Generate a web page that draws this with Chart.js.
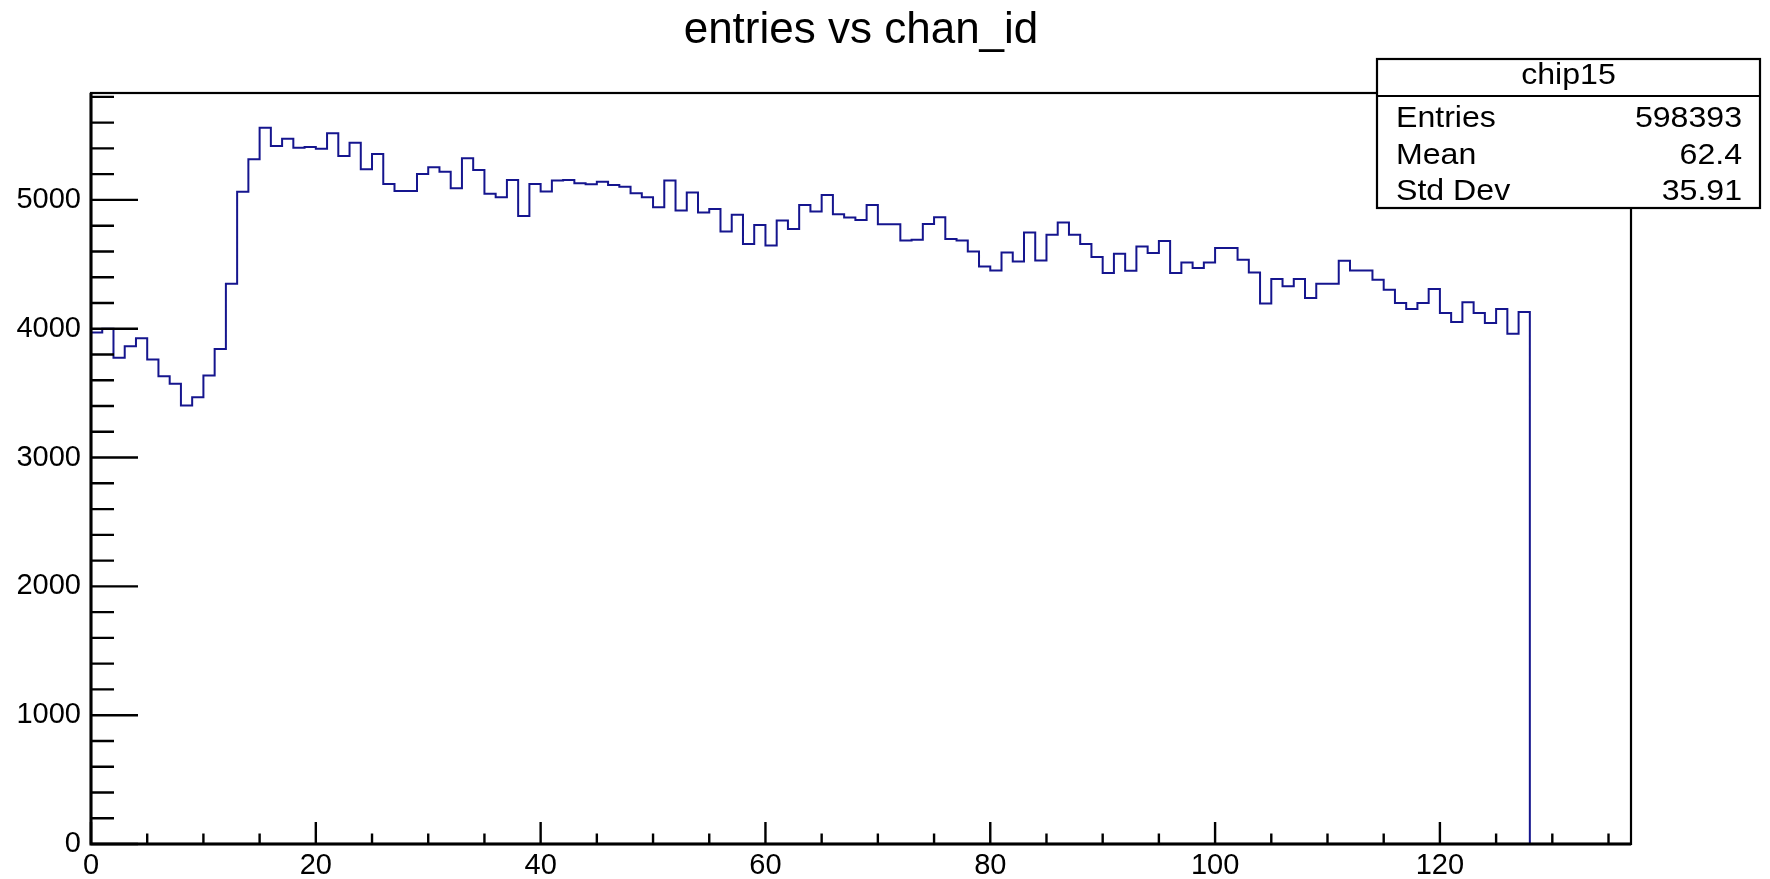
<!DOCTYPE html>
<html>
<head>
<meta charset="utf-8">
<title>entries vs chan_id</title>
<script src="https://cdn.jsdelivr.net/npm/chart.js@4.4.1/dist/chart.umd.min.js"></script>
<style>
  html, body { margin: 0; padding: 0; background: #fff; }
</style>
</head>
<body>
<canvas id="histChart" width="1770" height="879"></canvas>
<script>
// entries per channel for chip15, one value per bin (chan_id 0..127)
const entries = [
  3970, 4000, 3774, 3864, 3926, 3761, 3632, 3572, 3404, 3469,
  3637, 3843, 4349, 5064, 5315, 5560, 5418, 5475, 5405, 5410,
  5397, 5517, 5341, 5444, 5238, 5356, 5124, 5070, 5070, 5201,
  5253, 5219, 5090, 5323, 5232, 5047, 5021, 5155, 4876, 5124,
  5065, 5150, 5155, 5130, 5122, 5142, 5116, 5103, 5052, 5021,
  4944, 5150, 4917, 5057, 4902, 4929, 4755, 4884, 4657, 4806,
  4646, 4840, 4775, 4961, 4910, 5039, 4889, 4863, 4845, 4961,
  4812, 4812, 4685, 4690, 4814, 4866, 4696, 4685, 4600, 4483,
  4453, 4592, 4522, 4747, 4530, 4729, 4824, 4729, 4657, 4556,
  4432, 4582, 4450, 4638, 4587, 4682, 4432, 4515, 4471, 4515,
  4626, 4626, 4535, 4437, 4195, 4386, 4329, 4386, 4238, 4349,
  4349, 4528, 4453, 4453, 4380, 4303, 4200, 4153, 4200, 4308,
  4122, 4053, 4205, 4122, 4045, 4153, 3962, 4130
];

const xTicks = [0, 20, 40, 60, 80, 100, 120];
const yTicks = [0, 1000, 2000, 3000, 4000, 5000];
const xMax = 137;
const yMax = 5830;

const chartTitle = 'entries vs chan_id';
const histName = 'chip15';
const statNames = ['Entries', 'Mean', 'Std Dev'];
const statValues = ['598393', '62.4', '35.91'];

const FONT = '"Liberation Sans", Arial, Helvetica, sans-serif';

// step outline: each bin starts at its chan_id, closed by a drop to 0 after the last bin
const histPoints = entries.map((v, i) => ({ x: i, y: v }));
histPoints.push({ x: entries.length, y: 0 });

// ROOT's stats text is a bit wider than the plain font
function wideText(ctx, text, x, y, align) {
  const sx = 1.07;
  ctx.save();
  ctx.translate(x, y);
  ctx.scale(sx, 1);
  ctx.textAlign = align;
  ctx.fillText(text, 0, 0);
  ctx.restore();
}

// ROOT style frame, inward ticks, title and stats box
const rootFrame = {
  id: 'rootFrame',
  afterDraw(chart) {
    const { ctx, chartArea: a, scales } = chart;
    const x = scales.x, y = scales.y;
    ctx.save();
    ctx.strokeStyle = '#000';
    ctx.lineCap = 'butt';

    ctx.lineWidth = 2.4;
    ctx.beginPath();
    for (let v = 0; v <= xMax; v += 5) {
      const px = x.getPixelForValue(v);
      const len = v % 20 === 0 ? 22 : 10.5;
      ctx.moveTo(px, a.bottom);
      ctx.lineTo(px, a.bottom - len);
    }
    for (let v = 0; v <= yMax; v += 200) {
      const py = y.getPixelForValue(v);
      const len = v % 1000 === 0 ? 47 : 23;
      ctx.moveTo(a.left, py);
      ctx.lineTo(a.left + len, py);
    }
    ctx.stroke();

    ctx.lineWidth = 2.2;
    ctx.strokeRect(a.left, a.top, a.right - a.left, a.bottom - a.top);
    ctx.lineWidth = 3;
    ctx.beginPath();
    ctx.moveTo(a.left, a.top);
    ctx.lineTo(a.left, a.bottom);
    ctx.lineTo(a.right, a.bottom);
    ctx.stroke();

    // title, centred over the frame
    ctx.fillStyle = '#000';
    ctx.font = '44px ' + FONT;
    ctx.textAlign = 'center';
    ctx.textBaseline = 'alphabetic';
    ctx.fillText(chartTitle, (a.left + a.right) / 2, 43);

    // stats box
    const bx = 1377, by = 59, bw = 383, bh = 149;
    ctx.fillStyle = '#fff';
    ctx.fillRect(bx, by, bw, bh);
    ctx.lineWidth = 2.2;
    ctx.strokeRect(bx, by, bw, bh);
    ctx.beginPath();
    ctx.moveTo(bx, 96);
    ctx.lineTo(bx + bw, 96);
    ctx.stroke();

    ctx.fillStyle = '#000';
    ctx.font = '30px ' + FONT;
    wideText(ctx, histName, bx + bw / 2, 84, 'center');
    statNames.forEach((name, i) => {
      const base = 127 + i * 36.5;
      wideText(ctx, name, 1396, base, 'left');
      wideText(ctx, statValues[i], 1742, base, 'right');
    });
    ctx.restore();
  }
};

const ctx = document.getElementById('histChart').getContext('2d');
new Chart(ctx, {
  type: 'line',
  data: {
    datasets: [{
      label: histName,
      data: histPoints,
      stepped: 'before',
      borderColor: '#15158e',
      borderWidth: 2,
      pointRadius: 0,
      fill: false,
      tension: 0
    }]
  },
  options: {
    responsive: false,
    animation: false,
    devicePixelRatio: 1,
    layout: { padding: { top: 93, right: 139, bottom: 0, left: 0 } },
    plugins: {
      legend: { display: false },
      title: { display: false },
      tooltip: { enabled: false }
    },
    scales: {
      x: {
        type: 'linear',
        min: 0,
        max: xMax,
        afterFit: s => { s.height = 35; },
        afterBuildTicks: s => { s.ticks = xTicks.map(v => ({ value: v })); },
        grid: { display: false, drawTicks: false },
        border: { display: false },
        ticks: {
          autoSkip: false,
          maxRotation: 0,
          padding: 5,
          color: '#000',
          font: { family: FONT, size: 29 },
          callback: v => String(v)
        }
      },
      y: {
        type: 'linear',
        min: 0,
        max: yMax,
        afterFit: s => { s.width = 91; },
        afterBuildTicks: s => { s.ticks = yTicks.map(v => ({ value: v })); },
        grid: { display: false, drawTicks: false },
        border: { display: false },
        ticks: {
          autoSkip: false,
          padding: 10,
          color: '#000',
          font: { family: FONT, size: 29 },
          callback: v => String(v)
        }
      }
    }
  },
  plugins: [rootFrame]
});
</script>
</body>
</html>
